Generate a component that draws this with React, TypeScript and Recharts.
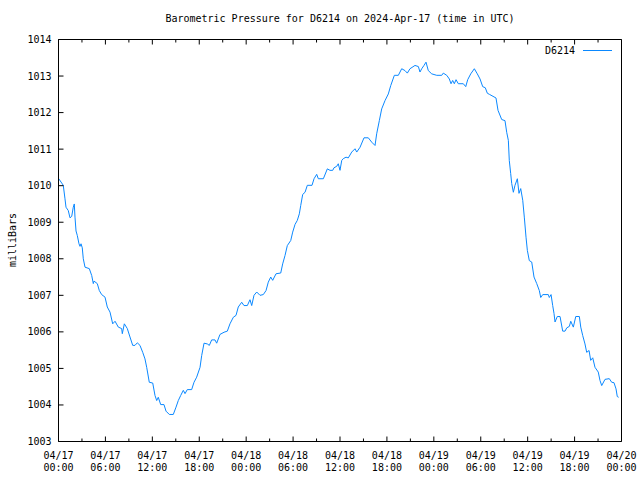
import React from "react";
import { LineChart, Line, XAxis, YAxis, Legend } from "recharts";

// hours since 04/17 00:00 UTC
const hours = [
  0, 0.32, 0.61, 0.83, 0.96, 1.25, 1.47, 1.69, 1.89, 2.02, 2.11, 2.24, 2.4, 2.62, 2.75, 2.88, 3.04, 3.17, 3.39, 3.94,
  4.25, 4.45, 4.54, 4.96, 5.22, 5.52, 5.95, 6.24, 6.59, 6.93, 7.23, 7.65, 8.08, 8.16, 8.42, 8.8, 9.14, 9.49, 9.78, 10.08,
  10.42, 10.77, 11.06, 11.28, 11.61, 12.05, 12.34, 12.56, 12.76, 13.07, 13.49, 13.75, 14.17, 14.68, 15.03, 15.32, 15.63, 15.96, 16.18, 16.47,
  17.03, 17.33, 17.67, 18.1, 18.31, 18.61, 19.03, 19.29, 19.59, 20.01, 20.23, 20.65, 21.17, 21.59, 21.93, 22.36, 22.7, 22.99, 23.43, 23.72,
  24.15, 24.49, 24.71, 25.0, 25.35, 25.77, 26.19, 26.54, 26.83, 27.14, 27.39, 27.82, 28.42, 28.67, 28.97, 29.26, 29.7, 29.95, 30.25, 30.54,
  30.8, 30.98, 31.23, 31.53, 31.82, 32.42, 32.68, 33.02, 33.23, 33.87, 34.38, 34.72, 35.07, 35.23, 35.58, 35.78, 36.0, 36.22, 36.42, 36.77,
  37.06, 37.5, 37.92, 38.14, 38.56, 39.07, 39.62, 40.06, 40.48, 40.69, 41.03, 41.33, 41.76, 42.18, 42.49, 42.95, 43.46, 43.89, 44.31, 44.61,
  44.95, 45.59, 46.02, 46.23, 46.45, 46.74, 47.0, 47.29, 47.73, 48.37, 49.01, 49.21, 49.65, 49.98, 50.2, 50.41, 50.62, 50.84, 51.13, 51.77,
  52.08, 52.33, 52.72, 53.18, 53.56, 53.91, 54.25, 54.58, 54.84, 55.1, 55.95, 56.21, 56.68, 57.1, 57.32, 57.53, 57.65, 57.83, 57.96, 58.17,
  58.38, 58.68, 58.89, 59.11, 59.37, 59.57, 59.79, 59.96, 60.21, 60.52, 60.81, 61.16, 61.49, 61.67, 61.93, 62.64, 62.77, 62.99, 63.2, 63.37,
  63.5, 63.79, 64.14, 64.48, 64.78, 65.0, 65.33, 65.51, 65.84, 66.15, 66.61, 66.79, 67.04, 67.33, 67.55, 67.85, 68.06, 68.32, 68.61, 69.03,
  69.25, 69.47, 69.89, 70.44, 70.75, 71.04, 71.3, 71.46, 71.64,
];

const millibars = [
  1010.2, 1010.1, 1010.01, 1009.64, 1009.41, 1009.32, 1009.12, 1009.16, 1009.41, 1009.5, 1009.14, 1008.76, 1008.64, 1008.41, 1008.34, 1008.41, 1008.3, 1008.0, 1007.77, 1007.73,
  1007.54, 1007.32, 1007.39, 1007.32, 1007.13, 1007.02, 1006.95, 1006.68, 1006.54, 1006.22, 1006.29, 1006.13, 1006.09, 1005.95, 1006.22, 1006.09, 1005.86, 1005.63, 1005.63, 1005.7,
  1005.63, 1005.44, 1005.26, 1005.03, 1004.62, 1004.6, 1004.26, 1004.12, 1004.21, 1004.01, 1004.01, 1003.83, 1003.74, 1003.74, 1003.94, 1004.12, 1004.26, 1004.4, 1004.31, 1004.42,
  1004.42, 1004.62, 1004.76, 1005.03, 1005.35, 1005.69, 1005.67, 1005.63, 1005.78, 1005.78, 1005.69, 1005.93, 1005.99, 1006.02, 1006.22, 1006.4, 1006.45, 1006.68, 1006.81, 1006.72,
  1006.72, 1006.88, 1006.72, 1007.0, 1007.09, 1007.0, 1007.02, 1007.13, 1007.36, 1007.5, 1007.41, 1007.59, 1007.61, 1007.86, 1008.09, 1008.36, 1008.5, 1008.73, 1008.94, 1009.05,
  1009.23, 1009.46, 1009.76, 1009.82, 1010.01, 1010.01, 1010.19, 1010.31, 1010.19, 1010.19, 1010.46, 1010.42, 1010.42, 1010.49, 1010.53, 1010.6, 1010.42, 1010.69, 1010.74, 1010.78,
  1010.76, 1010.92, 1011.01, 1010.92, 1011.05, 1011.31, 1011.31, 1011.19, 1011.1, 1011.42, 1011.78, 1012.1, 1012.33, 1012.51, 1012.74, 1013.02, 1013.02, 1013.2, 1013.15, 1013.08,
  1013.2, 1013.29, 1013.26, 1013.11, 1013.2, 1013.29, 1013.38, 1013.15, 1013.06, 1013.02, 1013.02, 1013.08, 1013.02, 1012.92, 1012.79, 1012.88, 1012.79, 1012.9, 1012.79, 1012.79,
  1012.71, 1012.9, 1013.06, 1013.2, 1013.06, 1012.92, 1012.71, 1012.68, 1012.53, 1012.5, 1012.4, 1012.06, 1011.81, 1011.78, 1011.46, 1011.24, 1010.69, 1010.33, 1010.06, 1009.82,
  1010.01, 1010.19, 1009.79, 1009.92, 1009.6, 1009.14, 1008.59, 1008.23, 1007.95, 1007.91, 1007.5, 1007.32, 1007.13, 1006.94, 1007.02, 1007.02, 1006.94, 1007.02, 1006.72, 1006.5,
  1006.27, 1006.42, 1006.42, 1006.02, 1006.02, 1006.11, 1006.15, 1006.29, 1006.13, 1006.42, 1006.42, 1006.13, 1005.9, 1005.67, 1005.44, 1005.49, 1005.22, 1005.29, 1005.03, 1004.9,
  1004.67, 1004.53, 1004.7, 1004.72, 1004.62, 1004.61, 1004.44, 1004.23, 1004.21,
];

const tickDates = ["04/17", "04/17", "04/17", "04/17", "04/18", "04/18", "04/18", "04/18", "04/19", "04/19", "04/19", "04/19", "04/20"];
const tickTimes = ["00:00", "06:00", "12:00", "18:00", "00:00", "06:00", "12:00", "18:00", "00:00", "06:00", "12:00", "18:00", "00:00"];
const yTicks = [1003, 1004, 1005, 1006, 1007, 1008, 1009, 1010, 1011, 1012, 1013, 1014];

const data = hours.map((t, i) => ({ t, p: millibars[i] }));
const majorTicks = tickDates.map((_, i) => i * 6);
const minorTicks = tickDates.slice(1).map((_, i) => i * 6 + 3);
const allXTicks = [...majorTicks, ...minorTicks].sort((a, b) => a - b);

const FONT = "'DejaVu Sans Mono', monospace";
const LINE_COLOR = "#0a88ff";

const BottomTick = (props: any) => {
  const { x, y, payload } = props;
  const major = payload.value % 6 === 0;
  const i = Math.round(payload.value / 6);
  return (
    <g>
      <line x1={x} x2={x} y1={y} y2={y - (major ? 5 : 3)} stroke="#000" />
      {major && (
        <text x={x} y={y + 17} textAnchor="middle" fontSize={10} fontFamily={FONT} fill="#000">
          {tickDates[i]}
        </text>
      )}
      {major && (
        <text x={x} y={y + 29} textAnchor="middle" fontSize={10} fontFamily={FONT} fill="#000">
          {tickTimes[i]}
        </text>
      )}
    </g>
  );
};

const TopTick = (props: any) => {
  const { x, y, payload } = props;
  const major = payload.value % 6 === 0;
  return <line x1={x} x2={x} y1={y} y2={y + (major ? 5 : 3)} stroke="#000" />;
};

const LeftTick = (props: any) => {
  const { x, y, payload } = props;
  return (
    <g>
      <line x1={x} x2={x + 5} y1={y} y2={y} stroke="#000" />
      <text x={x - 7} y={y + 3.5} textAnchor="end" fontSize={10} fontFamily={FONT} fill="#000">
        {payload.value}
      </text>
    </g>
  );
};

const RightTick = (props: any) => {
  const { x, y } = props;
  return <line x1={x} x2={x - 5} y1={y} y2={y} stroke="#000" />;
};

const LegendBox = () => (
  <div style={{ display: "flex", alignItems: "center", fontFamily: FONT, fontSize: 10, color: "#000" }}>
    <span>D6214</span>
    <span style={{ display: "inline-block", width: 29, height: 0, borderTop: `1px solid ${LINE_COLOR}`, marginLeft: 8 }} />
  </div>
);

export default function App() {
  return (
    <div style={{ position: "absolute", left: 0, top: 0, width: 640, height: 480, background: "#fff" }}>
      <div
        style={{
          position: "absolute", left: 0, width: 680, top: 13, textAlign: "center",
          fontFamily: FONT, fontSize: 10, color: "#000",
        }}
      >
        Barometric Pressure for D6214 on 2024-Apr-17 (time in UTC)
      </div>
      <div
        style={{
          position: "absolute", left: 12, top: 240, transform: "translate(-50%, -50%) rotate(-90deg)",
          fontFamily: FONT, fontSize: 10, color: "#000", whiteSpace: "nowrap",
        }}
      >
        milliBars
      </div>
      <LineChart
        width={640}
        height={480}
        data={data}
        margin={{ top: 38.5, right: 17.5, bottom: 0.5, left: 0.5 }}
      >
        <XAxis
          xAxisId="b"
          dataKey="t"
          type="number"
          domain={[0, 72]}
          ticks={allXTicks}
          interval={0}
          height={38}
          tickSize={0}
          tickMargin={0}
          tickLine={false}
          axisLine={{ stroke: "#000" }}
          tick={BottomTick}
        />
        <XAxis
          xAxisId="top"
          orientation="top"
          dataKey="t"
          type="number"
          domain={[0, 72]}
          ticks={allXTicks}
          interval={0}
          height={1}
          tickSize={0}
          tickMargin={0}
          tickLine={false}
          axisLine={{ stroke: "#000" }}
          tick={TopTick}
        />
        <YAxis
          yAxisId="l"
          type="number"
          domain={[1003, 1014]}
          ticks={yTicks}
          interval={0}
          width={58}
          tickSize={0}
          tickMargin={0}
          tickLine={false}
          axisLine={{ stroke: "#000" }}
          tick={LeftTick}
        />
        <YAxis
          yAxisId="r"
          orientation="right"
          type="number"
          domain={[1003, 1014]}
          ticks={yTicks}
          interval={0}
          width={1}
          tickSize={0}
          tickMargin={0}
          tickLine={false}
          axisLine={{ stroke: "#000" }}
          tick={RightTick}
        />
        <Legend
          layout="vertical"
          align="center"
          verticalAlign="middle"
          content={LegendBox}
          wrapperStyle={{ position: "absolute", left: 545, top: 45, width: "auto" }}
        />
        <Line
          xAxisId="b"
          yAxisId="l"
          type="linear"
          dataKey="p"
          name="D6214"
          stroke={LINE_COLOR}
          strokeWidth={1}
          dot={false}
          isAnimationActive={false}
        />
      </LineChart>
    </div>
  );
}
